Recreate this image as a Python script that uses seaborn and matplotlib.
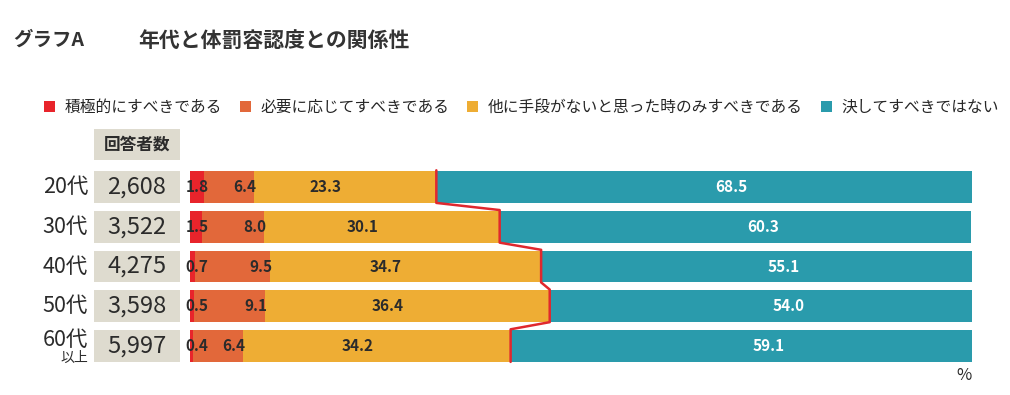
"""
グラフA 年代と体罰容認度との関係性（100%積み上げ横棒）
"""
import matplotlib
matplotlib.use('Agg')
import matplotlib.pyplot as plt
import numpy as np
import seaborn as sns

# データ
ages = ['20代', '30代', '40代', '50代', '60代']
counts = ['2,608', '3,522', '4,275', '3,598', '5,997']
series_names = ['積極的にすべきである', '必要に応じてすべきである',
                '他に手段がないと思った時のみすべきである', '決してすべきではない']
positive = [1.8, 1.5, 0.7, 0.5, 0.4]
necessary = [6.4, 8.0, 9.5, 9.1, 6.4]
only_case = [23.3, 30.1, 34.7, 36.4, 34.2]
never = [68.5, 60.3, 55.1, 54.0, 59.1]

colors = ['#E8242B', '#E2683A', '#EEAD34', '#2A9BAC']
beige = '#DEDBCF'
dark = '#2B2B2B'

sns.set_theme(style='white')
plt.rcParams['font.family'] = ['Noto Sans CJK JP', 'DejaVu Sans']

W, H = 1010, 395
fig = plt.figure(figsize=(W / 100, H / 100), dpi=100)


def fx(px):
    return px / W


def fy(px):
    return 1 - px / H


# 行の配置（ピクセル）
row0, step = 187, 39.75
top_px = row0 - 1.5 * step
bot_px = row0 + 4.5 * step
ax = fig.add_axes([fx(190), fy(bot_px), fx(972 - 190), (bot_px - top_px) / H])
ax_n = fig.add_axes([fx(94), fy(bot_px), fx(180 - 94), (bot_px - top_px) / H])

# 積み上げ（累積値を大きい順に重ねる）
cum = np.cumsum([positive, necessary, only_case, never], axis=0)
for k in range(3, -1, -1):
    sns.barplot(x=cum[k], y=ages, orient='h', color=colors[k], saturation=1,
                width=0.8, linewidth=0, ax=ax, label=series_names[k])
handles, labels = ax.get_legend_handles_labels()
if ax.get_legend() is not None:
    ax.get_legend().remove()

ax.set_xlim(0, 100)
ax.set_ylim(4.5, -1.5)
ax.set_xlabel('')
ax.set_ylabel('')
ax.set_xticks([])
ax.set_yticks([])
sns.despine(ax=ax, left=True, bottom=True)

# 「他に手段がない」と「決してすべきではない」の境界線
line_x, line_y = [], []
for i in range(len(ages)):
    line_x += [cum[2][i], cum[2][i]]
    line_y += [i - 0.42, i + 0.4]
ax.plot(line_x, line_y, color='#E0282E', lw=1.8, zorder=5)

# 数値ラベル
lab_kw = dict(va='center', fontsize=11, fontweight='bold')
for i in range(len(ages)):
    ax.text(-0.6, i, f'{positive[i]:.1f}', ha='left', color=dark, zorder=6, **lab_kw)
    ax.text(cum[1][i] + 0.3, i, f'{necessary[i]:.1f}', ha='right', color=dark, zorder=6, **lab_kw)
    ax.text((cum[1][i] + cum[2][i]) / 2 - 2.5, i, f'{only_case[i]:.1f}', ha='center',
            color=dark, zorder=6, **lab_kw)
    ax.text((cum[2][i] + cum[3][i]) / 2 + 3.5, i, f'{never[i]:.1f}', ha='center',
            color='white', zorder=6, **lab_kw)

# 回答者数の列
ax_n.barh(np.arange(len(ages)), 1, height=0.8, color=beige, linewidth=0)
ax_n.barh([-1.07], 1, height=0.78, color=beige, linewidth=0)
ax_n.set_xlim(0, 1)
ax_n.set_ylim(4.5, -1.5)
ax_n.axis('off')
ax_n.text(0.5, -1.07, '回答者数', ha='center', va='center', fontsize=12,
          fontweight='bold', color=dark)
for i, (age, n) in enumerate(zip(ages, counts)):
    ax_n.text(0.5, i, n, ha='center', va='center', fontsize=17, color=dark)
    if i == len(ages) - 1:
        ax_n.text(-0.07, i - 0.15, age, ha='right', va='center', fontsize=15.5, color=dark)
        ax_n.text(-0.07, i + 0.29, '以上', ha='right', va='center', fontsize=10, color=dark)
    else:
        ax_n.text(-0.07, i, age, ha='right', va='center', fontsize=15.5, color=dark)

# 凡例
order = [3, 2, 1, 0]
fig.legend([handles[j] for j in order], [labels[j] for j in order],
           loc='upper left', bbox_to_anchor=(fx(44), fy(99)), ncol=4, frameon=False,
           fontsize=11.3, handlelength=0.7, handleheight=0.7, handletextpad=0.6,
           columnspacing=1.15, borderpad=0, borderaxespad=0)

# タイトル
fig.text(fx(13), fy(40), 'グラフA', fontsize=14, fontweight='bold', va='center', color='#333333')
fig.text(fx(138), fy(40), '年代と体罰容認度との関係性', fontsize=15, fontweight='bold',
         va='center', color='#333333')
fig.text(fx(972), fy(375), '%', ha='right', va='center', fontsize=12, color=dark)

fig.savefig('out.png', dpi=100)
